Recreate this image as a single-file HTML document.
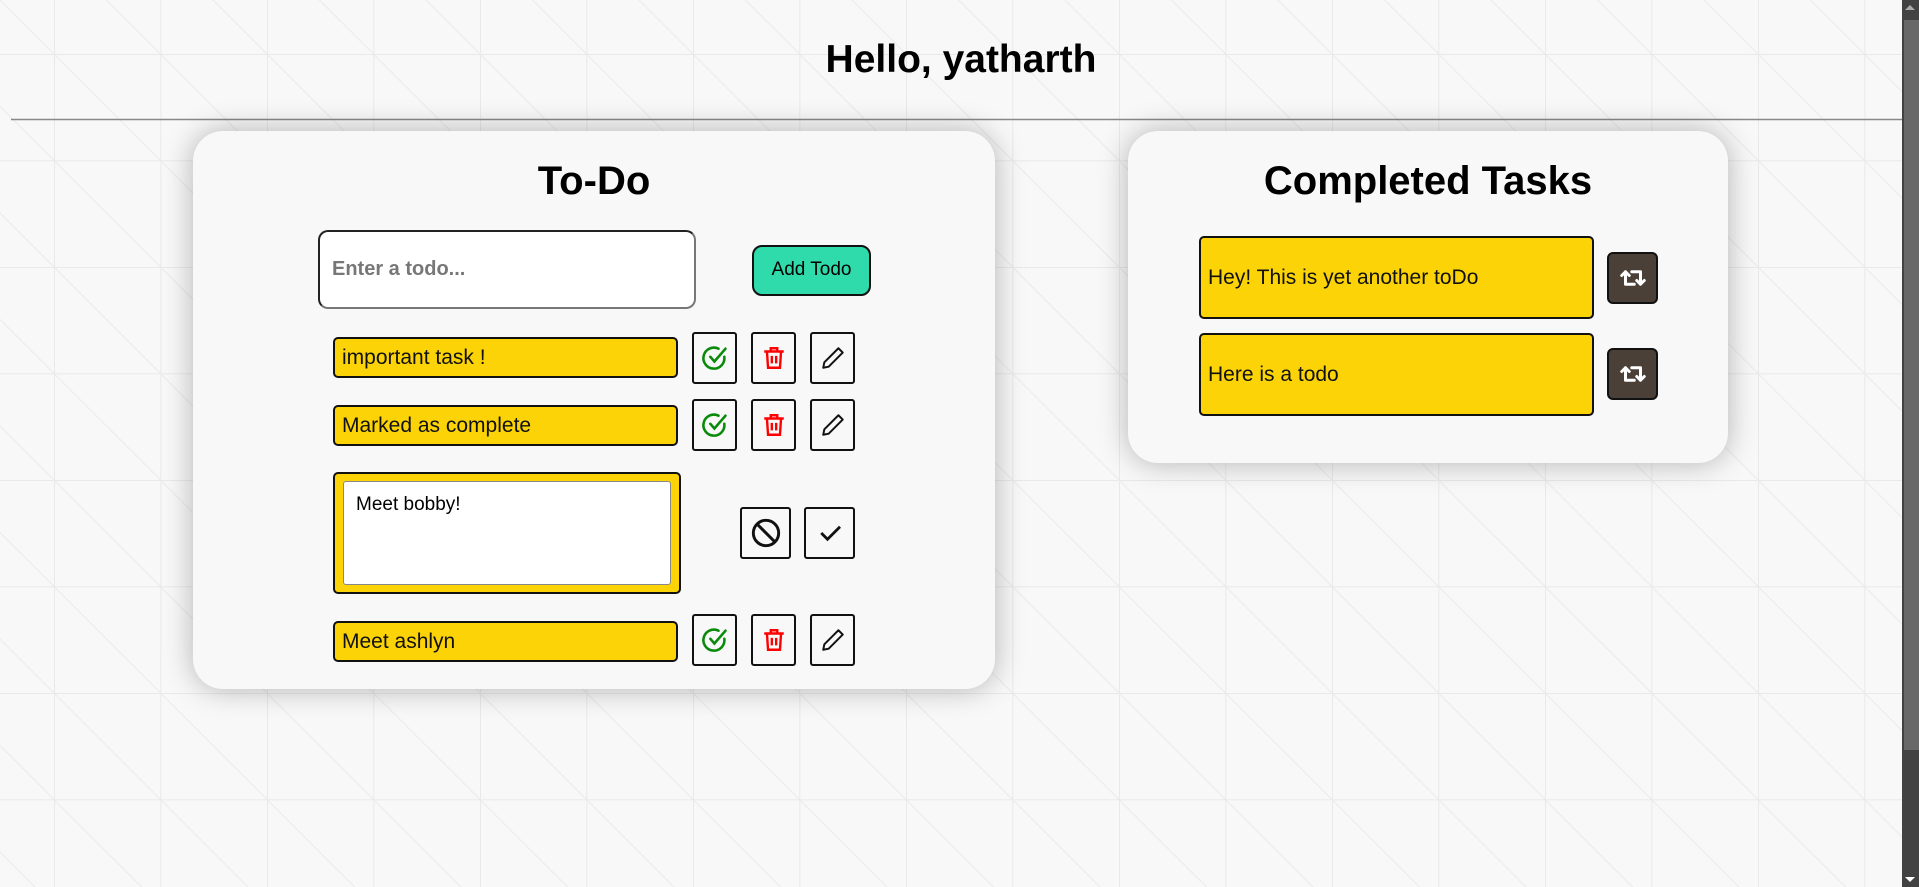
<!DOCTYPE html>
<html><head><meta charset="utf-8"><style>
*{box-sizing:border-box;margin:0;padding:0}
body{width:1919px;height:887px;overflow:hidden;background:#f8f8f8;font-family:"Liberation Sans",sans-serif;position:relative}
.a{position:absolute}
.card{background:#f8f8f8;border-radius:30px;box-shadow:0 0 30px rgba(0,0,0,.28)}
.y{background:#fbd307;border:2px solid #111;border-radius:5px;font-size:21px;padding-left:7px;display:flex;align-items:center;color:#111}
.b{border:2px solid #111;border-radius:3px;background:#f8f8f8;display:flex;align-items:center;justify-content:center}
.r{background:#4b4037;border:2px solid #111;border-radius:6px;display:flex;align-items:center;justify-content:center}
</style></head><body>
<svg class="a" style="left:0;top:0" width="1919" height="887">
<defs><pattern id="p" x="54" y="54" width="106.5" height="106.5" patternUnits="userSpaceOnUse">
<path d="M0 0V106.5M0 0H106.5" stroke="#e4e4e4" stroke-width="1.5" fill="none"/>
<path d="M0 0L106.5 106.5" stroke="#ececec" stroke-width="1.2"/>
</pattern></defs>
<rect width="1919" height="887" fill="url(#p)"/>
<line x1="11" y1="119.5" x2="1902" y2="119.5" stroke="#888" stroke-width="1.5"/>
</svg>
<div class="a" style="left:1902px;top:0;width:17px;height:887px;background:#424242"></div>
<div class="a" style="left:1904px;top:20px;width:15px;height:730px;background:#686868"></div>
<div class="a" style="left:1905px;top:5px;width:0;height:0;border:5px solid transparent;border-bottom-color:#aaa;border-top:0"></div>
<div class="a" style="left:1905px;top:877px;width:0;height:0;border:5px solid transparent;border-top-color:#fff;border-bottom:0"></div>

<div class="a" style="left:0;width:1922px;top:38px;text-align:center;font-size:39px;font-weight:bold">Hello, yatharth</div>

<div class="a card" style="left:193px;top:131px;width:802px;height:558px"></div>
<div class="a" style="left:193px;width:802px;top:159px;text-align:center;font-size:40px;font-weight:bold">To-Do</div>
<div class="a" style="left:318px;top:230px;width:378px;height:79px;background:#fff;border:2px solid #222;border-bottom-color:#777;border-right-color:#777;border-radius:10px;font-size:20px;font-weight:bold;color:#777;padding-left:12px;display:flex;align-items:center">Enter a todo...</div>
<div class="a" style="left:752px;top:245px;width:119px;height:51px;background:#30dbab;border:2px solid #111;border-radius:10px;font-size:19px;display:flex;align-items:center;justify-content:center;padding-bottom:2px">Add Todo</div>

<div class="a y" style="left:333px;top:337px;width:345px;height:41px">important task !</div>
<div class="a y" style="left:333px;top:405px;width:345px;height:41px">Marked as complete</div>
<div class="a y" style="left:333px;top:621px;width:345px;height:41px">Meet ashlyn</div>

<div class="a" style="left:333px;top:472px;width:348px;height:122px;background:#fbd307;border:2px solid #111;border-radius:5px"></div>
<div class="a" style="left:343px;top:481px;width:328px;height:104px;background:#fff;border:1.5px solid #888;border-radius:3px;font-size:19px;padding:12px 12px">Meet bobby!</div>

<div class="a b" style="left:692px;top:332px;width:45px;height:52px"><svg width="28" height="28" viewBox="0 0 24 24" fill="none" stroke="#0a8a0a" stroke-width="2.2" stroke-linecap="round"><path d="M20 11A9 9 0 1 1 15 4"/><path d="M8 11l3.5 4L21 4"/></svg></div>
<div class="a b" style="left:751px;top:332px;width:45px;height:52px"><svg width="26" height="26" viewBox="0 0 24 24" fill="none" stroke="#f00" stroke-width="2.2"><path d="M3 6h18M9 6V3h6v3M5.5 6l1 15h11l1-15M10 10v7M14 10v7"/></svg></div>
<div class="a b" style="left:810px;top:332px;width:45px;height:52px"><svg width="26" height="26" viewBox="0 0 24 24" fill="none" stroke="#111" stroke-width="1.8" stroke-linejoin="round"><path d="M17 3l4 4L8 20l-5 1 1-5z"/></svg></div>

<div class="a b" style="left:692px;top:399px;width:45px;height:52px"><svg width="28" height="28" viewBox="0 0 24 24" fill="none" stroke="#0a8a0a" stroke-width="2.2" stroke-linecap="round"><path d="M20 11A9 9 0 1 1 15 4"/><path d="M8 11l3.5 4L21 4"/></svg></div>
<div class="a b" style="left:751px;top:399px;width:45px;height:52px"><svg width="26" height="26" viewBox="0 0 24 24" fill="none" stroke="#f00" stroke-width="2.2"><path d="M3 6h18M9 6V3h6v3M5.5 6l1 15h11l1-15M10 10v7M14 10v7"/></svg></div>
<div class="a b" style="left:810px;top:399px;width:45px;height:52px"><svg width="26" height="26" viewBox="0 0 24 24" fill="none" stroke="#111" stroke-width="1.8" stroke-linejoin="round"><path d="M17 3l4 4L8 20l-5 1 1-5z"/></svg></div>

<div class="a b" style="left:692px;top:614px;width:45px;height:52px"><svg width="28" height="28" viewBox="0 0 24 24" fill="none" stroke="#0a8a0a" stroke-width="2.2" stroke-linecap="round"><path d="M20 11A9 9 0 1 1 15 4"/><path d="M8 11l3.5 4L21 4"/></svg></div>
<div class="a b" style="left:751px;top:614px;width:45px;height:52px"><svg width="26" height="26" viewBox="0 0 24 24" fill="none" stroke="#f00" stroke-width="2.2"><path d="M3 6h18M9 6V3h6v3M5.5 6l1 15h11l1-15M10 10v7M14 10v7"/></svg></div>
<div class="a b" style="left:810px;top:614px;width:45px;height:52px"><svg width="26" height="26" viewBox="0 0 24 24" fill="none" stroke="#111" stroke-width="1.8" stroke-linejoin="round"><path d="M17 3l4 4L8 20l-5 1 1-5z"/></svg></div>

<div class="a b" style="left:740px;top:507px;width:51px;height:52px"><svg width="32" height="32" viewBox="0 0 24 24" fill="none" stroke="#111" stroke-width="2.2"><circle cx="12" cy="12" r="9.5"/><path d="M5.3 5.3l13.4 13.4"/></svg></div>
<div class="a b" style="left:804px;top:507px;width:51px;height:52px"><svg width="30" height="30" viewBox="0 0 24 24" fill="none" stroke="#111" stroke-width="2.2"><path d="M5 12l5 5L20 7"/></svg></div>

<div class="a card" style="left:1128px;top:131px;width:600px;height:332px"></div>
<div class="a" style="left:1128px;width:600px;top:159px;text-align:center;font-size:40px;font-weight:bold">Completed Tasks</div>
<div class="a y" style="left:1199px;top:236px;width:395px;height:83px">Hey! This is yet another toDo</div>
<div class="a y" style="left:1199px;top:333px;width:395px;height:83px">Here is a todo</div>
<div class="a r" style="left:1607px;top:252px;width:51px;height:52px"><svg width="30" height="30" viewBox="0 0 24 24" fill="none" stroke="#fff" stroke-width="2.4" stroke-linecap="round" stroke-linejoin="round"><path d="M3 10l3-3 3 3M6 7v10h7M21 14l-3 3-3-3M18 17V7h-7"/></svg></div>
<div class="a r" style="left:1607px;top:348px;width:51px;height:52px"><svg width="30" height="30" viewBox="0 0 24 24" fill="none" stroke="#fff" stroke-width="2.4" stroke-linecap="round" stroke-linejoin="round"><path d="M3 10l3-3 3 3M6 7v10h7M21 14l-3 3-3-3M18 17V7h-7"/></svg></div>
</body></html>
